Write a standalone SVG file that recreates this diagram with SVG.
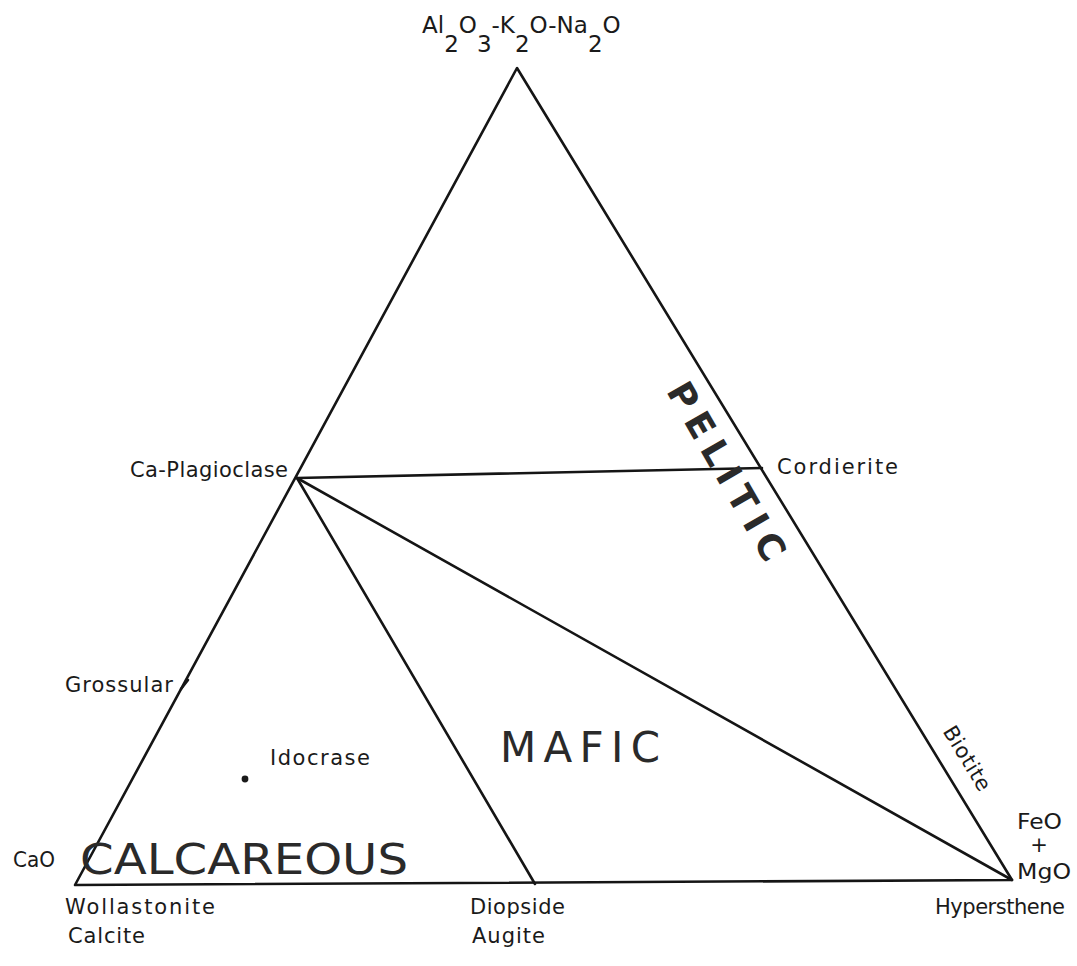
<svg xmlns="http://www.w3.org/2000/svg" width="1077" height="966" viewBox="0 0 1077 966">
<style>
.ln{stroke:#151515;stroke-width:2.6;fill:none;stroke-linecap:round;stroke-linejoin:round}
.lb{font-family:"DejaVu Sans","Liberation Sans",sans-serif;font-size:21px;fill:#1a1a1a}
.top{font-family:"DejaVu Sans","Liberation Sans",sans-serif;font-size:23px;fill:#1a1a1a}
.big{font-family:"DejaVu Sans","Liberation Sans",sans-serif;fill:#2a2a2a}
</style>
<rect width="1077" height="966" fill="#ffffff"/>
<g id="connectors">
<polygon class="ln" points="517,68 75,885 1012,880"/>
<line class="ln" x1="297" y1="478" x2="762" y2="468"/>
<line class="ln" x1="297" y1="478" x2="535" y2="884"/>
<line class="ln" x1="297" y1="478" x2="1012" y2="880"/>
<line class="ln" x1="181" y1="689" x2="188" y2="680"/>
</g>
<g id="apex">
<text class="top" x="422" y="33">Al<tspan dy="19">2</tspan><tspan dy="-19">O</tspan><tspan dy="19">3</tspan><tspan dy="-19">-K</tspan><tspan dy="19">2</tspan><tspan dy="-19">O-Na</tspan><tspan dy="19">2</tspan><tspan dy="-19">O</tspan></text>
</g>
<g id="ca-plagioclase"><text class="lb" x="130" y="477" textLength="158" lengthAdjust="spacing">Ca-Plagioclase</text></g>
<g id="cordierite"><text class="lb" x="777" y="474" textLength="121" lengthAdjust="spacing">Cordierite</text></g>
<g id="grossular"><text class="lb" x="65" y="692" textLength="108" lengthAdjust="spacing">Grossular</text></g>
<g id="idocrase"><text class="lb" x="270" y="765" textLength="100" lengthAdjust="spacing">Idocrase</text><circle cx="245" cy="779" r="3.4" fill="#1a1a1a"/></g>
<g id="biotite"><text class="lb" transform="translate(961,762) rotate(58.6)" text-anchor="middle" y="0" font-size="19" textLength="72" lengthAdjust="spacing">Biotite</text></g>
<g id="pelitic"><text class="big" transform="translate(727,471) rotate(60)" text-anchor="middle" y="13" font-size="36" font-weight="bold" textLength="200" lengthAdjust="spacing">PELITIC</text></g>
<g id="mafic"><text class="big" x="500" y="762" font-size="42" textLength="160" lengthAdjust="spacing">MAFIC</text></g>
<g id="calcareous"><text class="big" x="80" y="874" font-size="42" textLength="328" lengthAdjust="spacingAndGlyphs">CALCAREOUS</text></g>
<g id="cao"><text class="lb" x="13" y="867" textLength="42" lengthAdjust="spacingAndGlyphs">CaO</text></g>
<g id="feo-mgo">
<text class="lb" x="1017" y="829" textLength="45" lengthAdjust="spacingAndGlyphs">FeO</text>
<text class="lb" x="1039" y="852" text-anchor="middle">+</text>
<text class="lb" x="1017" y="879" textLength="54" lengthAdjust="spacingAndGlyphs">MgO</text>
</g>
<g id="wollastonite"><text class="lb" x="65" y="914" textLength="150" lengthAdjust="spacing">Wollastonite</text><text class="lb" x="68" y="943" textLength="77" lengthAdjust="spacing">Calcite</text></g>
<g id="diopside"><text class="lb" x="470" y="914" textLength="95" lengthAdjust="spacing">Diopside</text><text class="lb" x="472" y="943" textLength="73" lengthAdjust="spacing">Augite</text></g>
<g id="hypersthene"><text class="lb" x="935" y="914" textLength="130" lengthAdjust="spacing">Hypersthene</text></g>
</svg>
